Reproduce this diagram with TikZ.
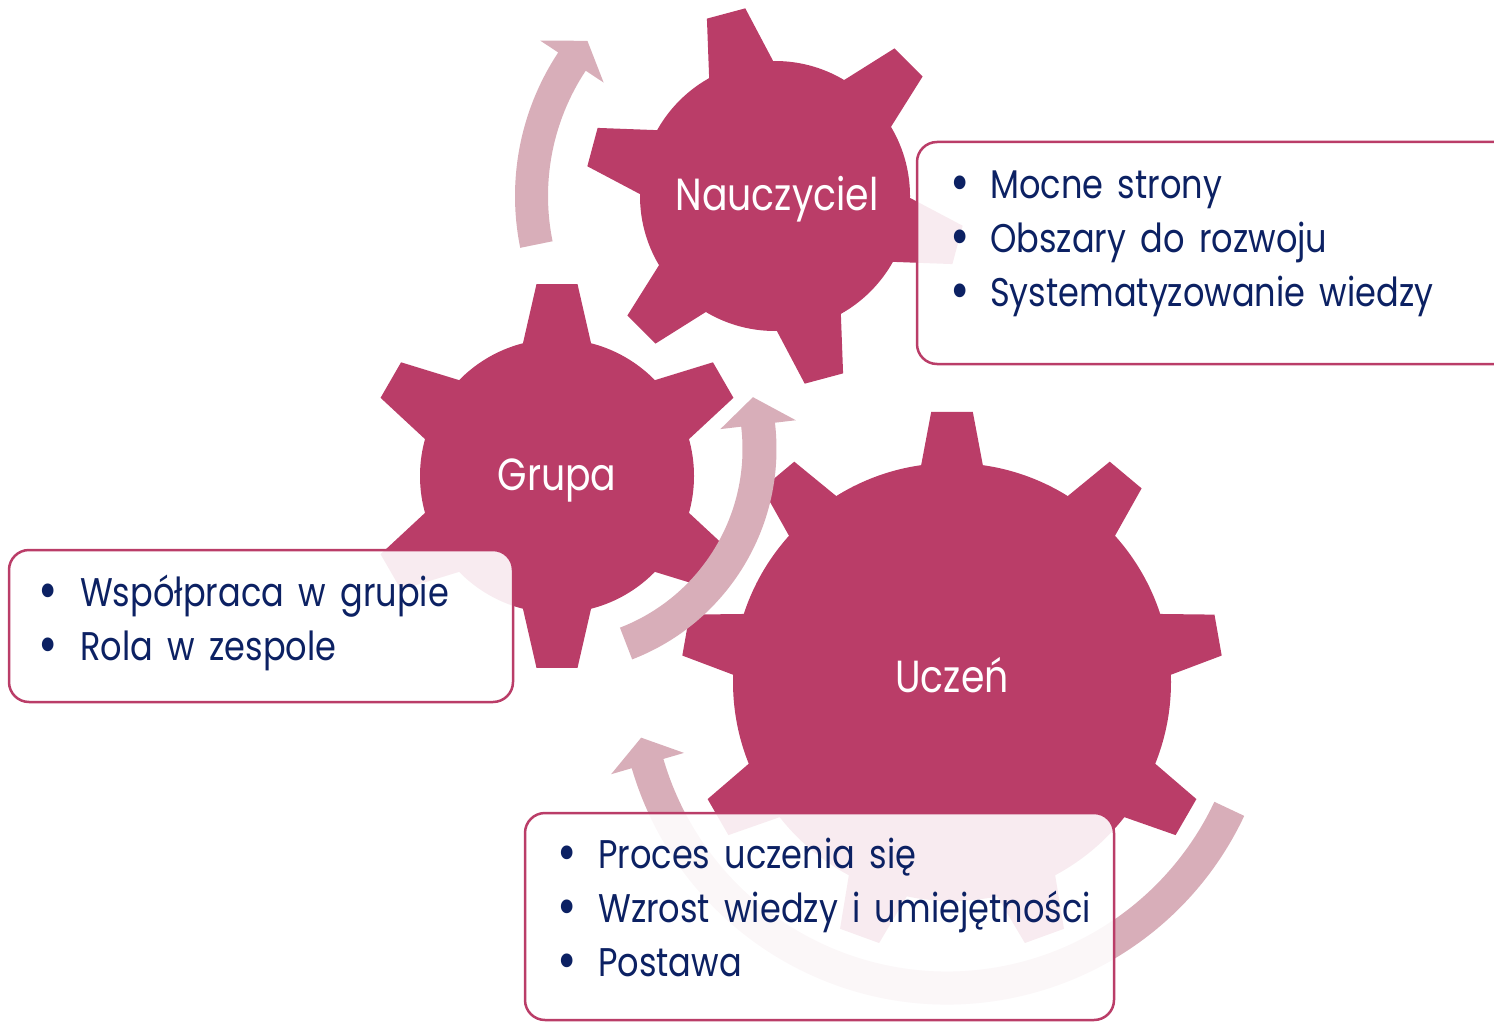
\documentclass[tikz,border=0pt]{standalone}
\usepackage{fontspec}
\setmainfont{Poppins}[FakeStretch=0.84, WordSpace=1.6]
\usetikzlibrary{calc}
\definecolor{gearc}{RGB}{186,61,104}
\definecolor{arrc}{RGB}{216,174,185}
\definecolor{navy}{RGB}{12,33,99}
\newcommand\drawgear[7]{% cx, cy, R, Rt, half-angle base, half-angle tip, angle list
  \begin{scope}[shift={(#1,#2)}]
    \fill[gearc] (0,0) circle[radius=#3];
    \foreach \t in {#7} {
      \fill[gearc] ({\t-#5}:{#3-10}) -- ({\t-#5}:#3) -- ({\t-#6}:#4) -- ({\t+#6}:#4)
        -- ({\t+#5}:#3) -- ({\t+#5}:{#3-10}) -- cycle;
    }
  \end{scope}}
\newcommand\circarrow[8]{% cx, cy, r, w, a1, a2, tip, h
  \begin{scope}[shift={(#1,#2)}]
    \fill[arrc] (#5:{#3+#4}) arc[start angle=#5, end angle=#6, radius={#3+#4}]
      -- (#6:{#3+#8}) -- (#7:#3) -- (#6:{#3-#8}) -- (#6:{#3-#4})
      arc[start angle=#6, end angle=#5, radius={#3-#4}] -- cycle;
  \end{scope}}
\begin{document}
\begin{tikzpicture}[x=1pt,y=1pt,
  infobox/.style={draw=gearc, line width=2.5pt, fill=white, fill opacity=0.9, rounded corners=20pt},
  bul/.style={anchor=base, text=navy, font=\fontsize{56}{60}\selectfont, inner sep=0pt},
  itm/.style={anchor=base west, text=navy, font=\fontsize{40}{48}\selectfont, inner sep=0pt},
  glabel/.style={anchor=base, text=white, font=\fontsize{45}{50}\selectfont, inner sep=0pt}]
\useasboundingbox (0,0) rectangle (1494,-1022);
\clip (0,0) rectangle (1494,-1022);
% gears
\drawgear{775}{-196}{135}{190}{14.2}{6.0}{45,105,165,225,285,345}
\drawgear{557}{-476}{137}{193}{14.4}{6.1}{30,90,150,210,270,330}
\drawgear{952}{-682}{219}{271}{8.1}{4.4}{10,50,90,130,170,210,250,290,330}
% arrows
\circarrow{775}{-196}{243.5}{16.5}{191.5}{146.5}{140.4}{38}
\circarrow{551}{-449}{208.5}{17}{-68.9}{6.7}{14.4}{38}
\circarrow{947}{-676}{312}{16.5}{-25.2}{-163.7}{-168.6}{38}
% gear labels
\node[glabel] (nauczyciel) at (777,-210) {Nauczyciel};
\node[glabel] (grupa) at (557,-490) {Grupa};
\node[glabel] (uczen) at (952,-692) {Uczeń};
% boxes
\draw[infobox] (917,-142) rectangle (1530,-364);
\draw[infobox] (9,-550) rectangle (513,-702);
\draw[infobox] (525,-813) rectangle (1114,-1020);
% box texts
\node[bul] (bn1) at (960,-201) {•};
\node[itm] (tn1) at (990,-198) {Mocne strony};
\node[bul] (bn2) at (960,-255) {•};
\node[itm] (tn2) at (990,-252) {Obszary do rozwoju};
\node[bul] (bn3) at (960,-309) {•};
\node[itm] (tn3) at (990,-306) {Systematyzowanie wiedzy};
\node[bul] (bg1) at (48,-609) {•};
\node[itm] (tg1) at (80,-606) {Współpraca w grupie};
\node[bul] (bg2) at (48,-663) {•};
\node[itm] (tg2) at (80,-660) {Rola w zespole};
\node[bul] (bu1) at (567,-871) {•};
\node[itm] (tu1) at (598,-868) {Proces uczenia się};
\node[bul] (bu2) at (567,-925) {•};
\node[itm] (tu2) at (598,-922) {Wzrost wiedzy i umiejętności};
\node[bul] (bu3) at (567,-979) {•};
\node[itm] (tu3) at (598,-976) {Postawa};
\end{tikzpicture}
\end{document}
